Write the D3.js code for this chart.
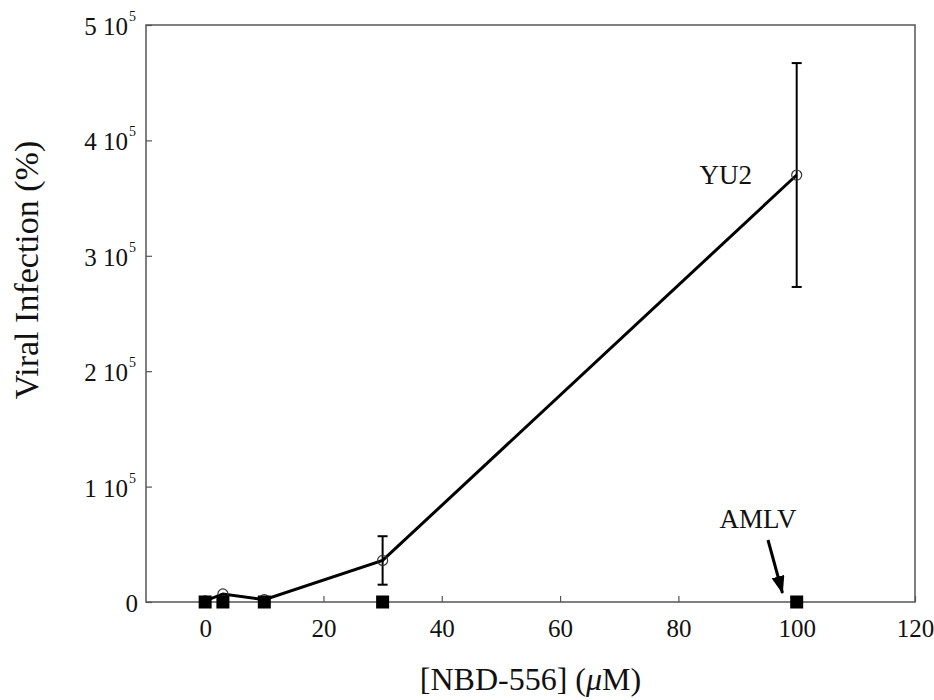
<!DOCTYPE html>
<html>
<head>
<meta charset="utf-8">
<script src="https://cdn.jsdelivr.net/npm/d3@7"></script>
<style>
  body { margin: 0; background: #fff; }
  text { font-family: "Liberation Serif", "DejaVu Serif", serif; fill: #111; }
</style>
</head>
<body>
<script>
// size of the page
var w = 934;
var h = 700;
var margin = { top: 25, right: 19, bottom: 98, left: 146 };

// data
var concentrations = [0, 3, 10, 30, 100];
var yu2Values = [1000, 7000, 2000, 36000, 370000];
var yu2Errors = [0, 0, 0, 21000, 97000];
var amlvValues = [0, 0, 0, 0, 0];
var xTicks = [0, 20, 40, 60, 80, 100, 120];
var yTicks = [0, 100000, 200000, 300000, 400000, 500000];
var yTickMantissa = ["0", "1", "2", "3", "4", "5"];

var svg = d3.select("body")
            .append("svg")
            .attr("width", w)
            .attr("height", h);

var xScale = d3.scaleLinear()
                .domain([-10, 120])
                .range([margin.left, w - margin.right]);

var yScale = d3.scaleLinear()
                .domain([0, 500000])
                .range([h - margin.bottom, margin.top]);

var axisColor = "#555";

// frame box
svg.append("rect")
    .attr("x", xScale(-10))
    .attr("y", yScale(500000))
    .attr("width", xScale(120) - xScale(-10))
    .attr("height", yScale(0) - yScale(500000))
    .attr("fill", "none")
    .attr("stroke", axisColor)
    .attr("stroke-width", 1.5);

// x axis ticks (inward)
var xAxis = svg.append("g")
    .attr("transform", "translate(0," + yScale(0) + ")")
    .call(d3.axisBottom(xScale).tickValues(xTicks).tickSizeInner(-6).tickSizeOuter(0).tickPadding(17));
xAxis.select(".domain").remove();
xAxis.selectAll(".tick line").attr("stroke", axisColor).attr("stroke-width", 1.2);
xAxis.selectAll(".tick text")
    .style("font-family", "Liberation Serif, serif")
    .style("font-size", "25px")
    .attr("fill", "#111");

// y axis ticks (inward), labels like "4 10^5"
var yAxis = svg.append("g")
    .attr("transform", "translate(" + xScale(-10) + ",0)")
    .call(d3.axisLeft(yScale).tickValues(yTicks).tickSizeInner(-6).tickSizeOuter(0).tickFormat(""));
yAxis.select(".domain").remove();
yAxis.selectAll(".tick line").attr("stroke", axisColor).attr("stroke-width", 1.2);

var yLabels = svg.append("g").selectAll("text")
    .data(yTicks)
    .enter()
    .append("text")
    .attr("x", function(d) { return d === 0 ? 138 : 128; })
    .attr("y", function(d) { return yScale(d) + 10; })
    .attr("text-anchor", "end")
    .style("font-size", "25px");
yLabels.each(function(d, i) {
    var t = d3.select(this);
    if (d === 0) {
        t.text("0");
    } else {
        t.text(yTickMantissa[i] + " 10");
        // superscript exponent
        svg.append("text")
            .attr("x", 129)
            .attr("y", yScale(d) - 4)
            .style("font-size", "14px")
            .text("5");
    }
});

// YU2 line
var line = d3.line()
    .x(function(d) { return xScale(d[0]); })
    .y(function(d) { return yScale(d[1]); });

var yu2 = d3.zip(concentrations, yu2Values, yu2Errors);

svg.append("path")
    .datum(yu2)
    .attr("d", line)
    .attr("fill", "none")
    .attr("stroke", "#000")
    .attr("stroke-width", 3);

// error bars
var errs = svg.append("g").selectAll("g")
    .data(yu2.filter(function(d) { return d[2] > 0; }))
    .enter()
    .append("g")
    .attr("stroke", "#000")
    .attr("stroke-width", 2);
errs.append("line")
    .attr("x1", function(d) { return xScale(d[0]); })
    .attr("x2", function(d) { return xScale(d[0]); })
    .attr("y1", function(d) { return yScale(d[1] + d[2]); })
    .attr("y2", function(d) { return yScale(d[1] - d[2]); });
errs.selectAll(".cap")
    .data(function(d) { return [[d[0], d[1] + d[2]], [d[0], d[1] - d[2]]]; })
    .enter()
    .append("line")
    .attr("x1", function(d) { return xScale(d[0]) - 5; })
    .attr("x2", function(d) { return xScale(d[0]) + 5; })
    .attr("y1", function(d) { return yScale(d[1]); })
    .attr("y2", function(d) { return yScale(d[1]); });

// YU2 open circles
svg.append("g").selectAll("circle")
    .data(yu2)
    .enter()
    .append("circle")
    .attr("cx", function(d) { return xScale(d[0]); })
    .attr("cy", function(d) { return yScale(d[1]); })
    .attr("r", 5)
    .attr("fill", "none")
    .attr("stroke", "#333")
    .attr("stroke-width", 1.2);

// AMLV filled squares
var amlv = d3.zip(concentrations, amlvValues);
svg.append("g").selectAll("rect")
    .data(amlv)
    .enter()
    .append("rect")
    .attr("x", function(d) { return xScale(d[0]) - 6.5; })
    .attr("y", function(d) { return yScale(d[1]) - 6.5; })
    .attr("width", 13)
    .attr("height", 13)
    .attr("fill", "#000");

// annotations
svg.append("text")
    .attr("x", xScale(88))
    .attr("y", yScale(370000) + 9)
    .attr("text-anchor", "middle")
    .style("font-size", "27px")
    .text("YU2");

svg.append("text")
    .attr("x", 758)
    .attr("y", 528)
    .attr("text-anchor", "middle")
    .style("font-size", "27px")
    .text("AMLV");

svg.append("defs").append("marker")
    .attr("id", "arrow")
    .attr("viewBox", "0 0 18 13")
    .attr("refX", 17)
    .attr("refY", 6.5)
    .attr("markerWidth", 18)
    .attr("markerHeight", 13)
    .attr("markerUnits", "userSpaceOnUse")
    .attr("orient", "auto")
    .append("path")
    .attr("d", "M0,0L18,6.5L0,13z")
    .attr("fill", "#000");

svg.append("line")
    .attr("x1", 768)
    .attr("y1", 540)
    .attr("x2", xScale(97.6))
    .attr("y2", yScale(0) - 9)
    .attr("stroke", "#000")
    .attr("stroke-width", 3)
    .attr("marker-end", "url(#arrow)");

// axis titles
var xTitle = svg.append("text")
    .attr("x", (xScale(-10) + xScale(120)) / 2)
    .attr("y", 690)
    .attr("text-anchor", "middle")
    .style("font-size", "32px");
xTitle.append("tspan").text("[NBD-556] (");
xTitle.append("tspan").style("font-style", "italic").text("μ");
xTitle.append("tspan").text("M)");

svg.append("text")
    .attr("transform", "translate(38,270) rotate(-90)")
    .attr("text-anchor", "middle")
    .style("font-size", "34px")
    .text("Viral Infection (%)");
</script>
</body>
</html>
